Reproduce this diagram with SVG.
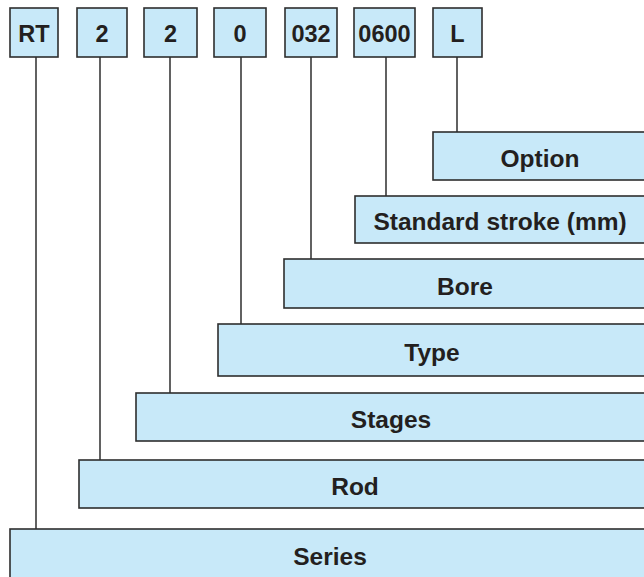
<svg xmlns="http://www.w3.org/2000/svg" width="644" height="577" viewBox="0 0 644 577">
<style>
.box{fill:#c8e9f9;stroke:#2e2e2e;stroke-width:1.6}
.lbl{font-family:"Liberation Sans",Arial,sans-serif;font-weight:bold;font-size:23.5px;fill:#231f20;text-anchor:middle}
.big{font-size:24.5px}
.ln{stroke:#3a3a3a;stroke-width:1.6;fill:none}
</style>
<rect width="644" height="577" fill="#ffffff"/>
<g id="connectors">
<line class="ln" x1="36" y1="57" x2="36" y2="529"/>
<line class="ln" x1="100" y1="57" x2="100" y2="460"/>
<line class="ln" x1="170" y1="57" x2="170" y2="393"/>
<line class="ln" x1="241" y1="57" x2="241" y2="324"/>
<line class="ln" x1="311" y1="57" x2="311" y2="259"/>
<line class="ln" x1="386" y1="57" x2="386" y2="196"/>
<line class="ln" x1="457" y1="57" x2="457" y2="132"/>
</g>
<g id="code-RT"><rect class="box" x="10" y="8" width="48" height="49"/><text class="lbl" x="34" y="41.5">RT</text></g>
<g id="code-2a"><rect class="box" x="77" y="8" width="50" height="49"/><text class="lbl" x="102" y="41.5">2</text></g>
<g id="code-2b"><rect class="box" x="144" y="8" width="53" height="49"/><text class="lbl" x="170.5" y="41.5">2</text></g>
<g id="code-0"><rect class="box" x="214" y="8" width="52" height="49"/><text class="lbl" x="240" y="41.5">0</text></g>
<g id="code-032"><rect class="box" x="285" y="8" width="52" height="49"/><text class="lbl" x="311" y="41.5">032</text></g>
<g id="code-0600"><rect class="box" x="354" y="8" width="61" height="49"/><text class="lbl" x="384.5" y="41.5">0600</text></g>
<g id="code-L"><rect class="box" x="433" y="8" width="49" height="49"/><text class="lbl" x="457.5" y="41.5">L</text></g>
<g id="option"><rect class="box" x="433" y="132" width="220" height="48"/><text class="lbl big" x="540" y="167">Option</text></g>
<g id="stroke"><rect class="box" x="355" y="196" width="298" height="47"/><text class="lbl big" x="500" y="230">Standard stroke (mm)</text></g>
<g id="bore"><rect class="box" x="284" y="259" width="369" height="49"/><text class="lbl big" x="465" y="295">Bore</text></g>
<g id="type"><rect class="box" x="218" y="324" width="435" height="52"/><text class="lbl big" x="432" y="361">Type</text></g>
<g id="stages"><rect class="box" x="136" y="393" width="517" height="48"/><text class="lbl big" x="391" y="428">Stages</text></g>
<g id="rod"><rect class="box" x="79" y="460" width="574" height="48"/><text class="lbl big" x="355" y="495">Rod</text></g>
<g id="series"><rect class="box" x="10" y="529" width="643" height="60"/><text class="lbl big" x="330" y="565">Series</text></g>
</svg>
